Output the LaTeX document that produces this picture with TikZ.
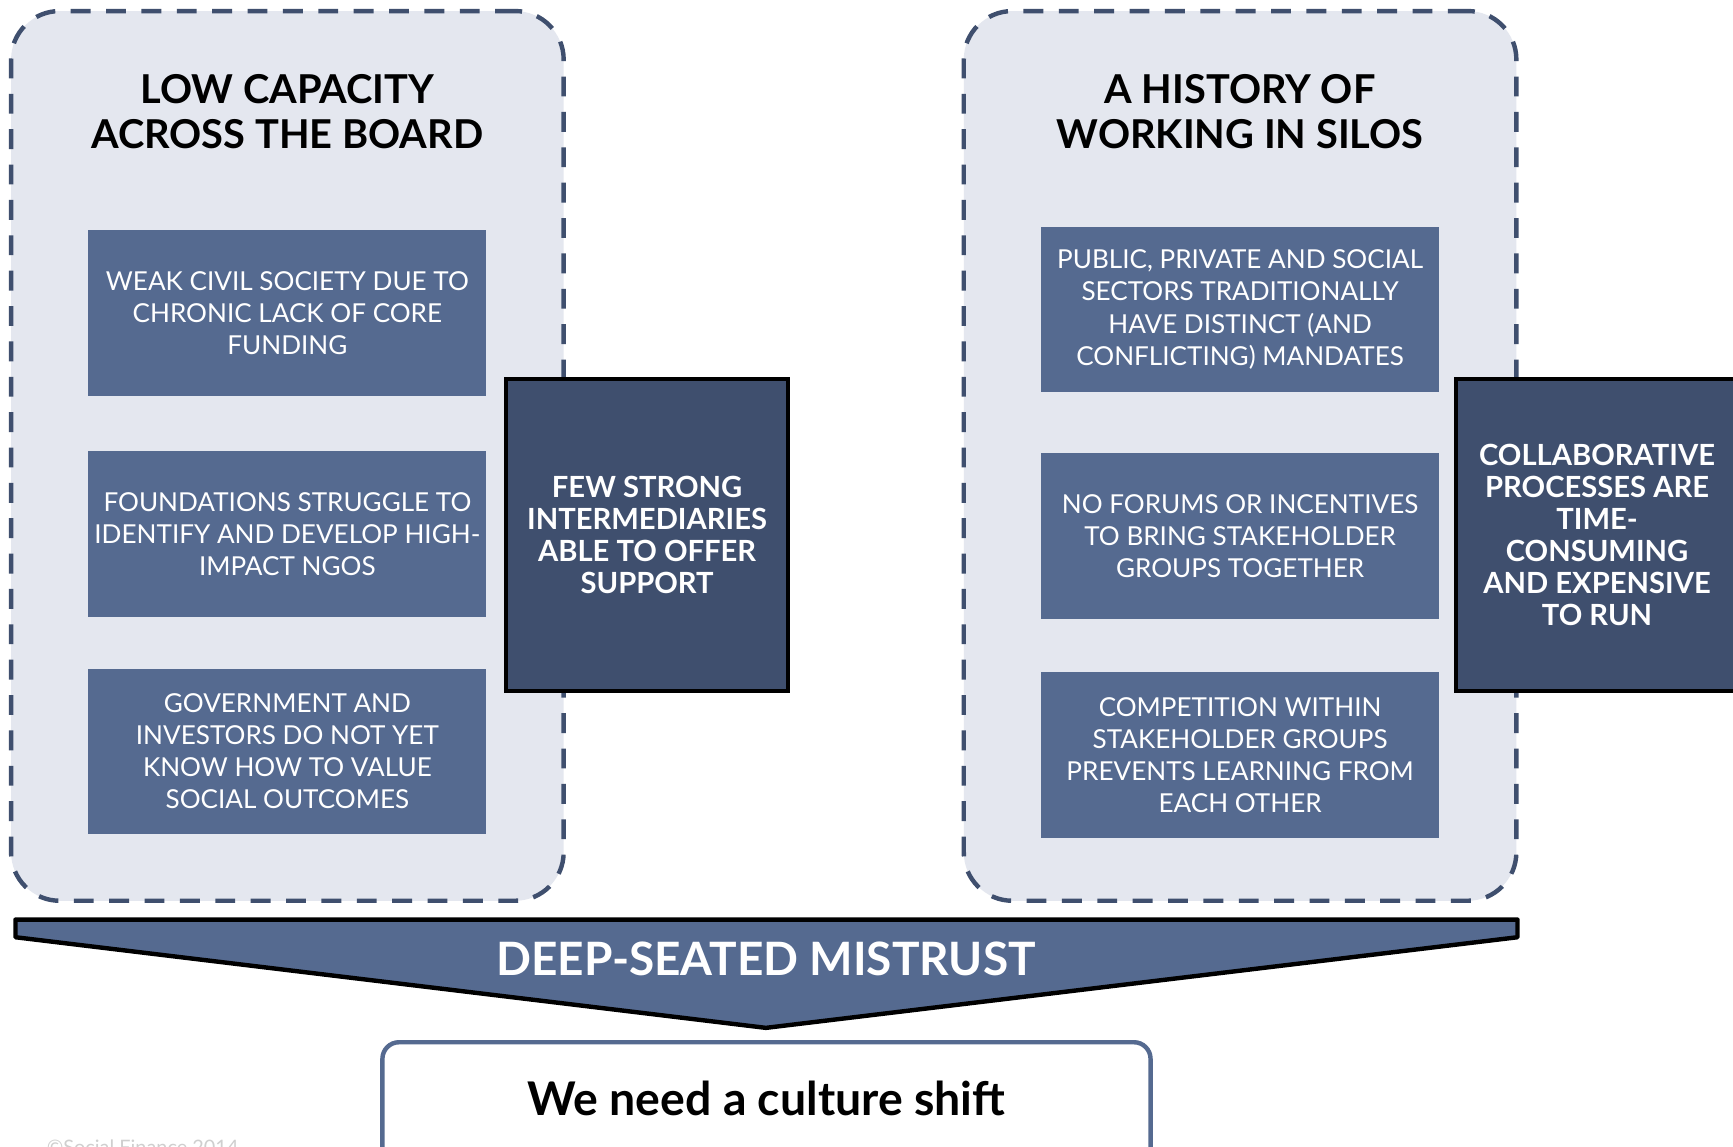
\documentclass[tikz,border=0pt]{standalone}
\usepackage{fontspec}
\setmainfont{Lato}
\definecolor{panelfill}{HTML}{E4E7EF}
\definecolor{dashc}{HTML}{3F4F6E}
\definecolor{innerc}{HTML}{556A90}
\definecolor{darkc}{HTML}{3F4F6E}
\definecolor{faint}{HTML}{CFCFCF}
\tikzset{
  panel/.style={rectangle, draw=dashc, fill=panelfill, line width=2pt,
    dash pattern=on 9pt off 7pt, rounded corners=22pt,
    minimum width=250pt, minimum height=402.5pt, inner sep=0pt},
  paneltitle/.style={align=center, font=\bfseries\fontsize{18}{20}\selectfont, text=black},
  innerbox/.style={rectangle, fill=innerc, text=white, minimum width=180pt,
    minimum height=75pt, align=center, inner sep=0pt,
    font=\fontsize{11.8}{14.5}\selectfont},
  darkbox/.style={rectangle, draw=black, line width=2pt, fill=darkc, text=white,
    minimum width=127.5pt, minimum height=141pt, align=center, inner sep=0pt,
    font=\bfseries\fontsize{13.2}{14.5}\selectfont},
  banner/.style={draw=black, line width=2pt, fill=innerc, line join=round},
  bannertext/.style={text=white, font=\bfseries\fontsize{20.8}{24}\selectfont},
  resultbox/.style={rectangle, draw=innerc, line width=2pt, fill=white,
    rounded corners=7.5pt, minimum width=347.5pt, minimum height=55pt,
    font=\bfseries\fontsize{21}{24}\selectfont, text=black}
}
\begin{document}
\begin{tikzpicture}[x=0.5pt,y=-0.5pt]
\clip (0,0) rectangle (1568,1037);
\fill[white] (0,0) rectangle (1568,1037);

% panels
\node[panel] (lp) at (260,412.5) {};
\node[panel] (rp) at (1122,412.5) {};
\node[paneltitle] (lt) at (260,101) {LOW CAPACITY\\ACROSS THE BOARD};
\node[paneltitle] (rt) at (1122,101) {A HISTORY OF\\WORKING IN SILOS};

% left inner boxes
\node[innerbox] (l1) at (260,283) {WEAK CIVIL SOCIETY DUE TO\\CHRONIC LACK OF CORE\\FUNDING};
\node[innerbox] (l2) at (260,483) {FOUNDATIONS STRUGGLE TO\\IDENTIFY AND DEVELOP HIGH-\\IMPACT NGOS};
\node[innerbox] (l3) at (260,680) {GOVERNMENT AND\\INVESTORS DO NOT YET\\KNOW HOW TO VALUE\\SOCIAL OUTCOMES};

% right inner boxes
\node[innerbox] (r1) at (1122,280) {PUBLIC, PRIVATE AND SOCIAL\\SECTORS TRADITIONALLY\\HAVE DISTINCT (AND\\CONFLICTING) MANDATES};
\node[innerbox] (r2) at (1122,485) {NO FORUMS OR INCENTIVES\\TO BRING STAKEHOLDER\\GROUPS TOGETHER};
\node[innerbox] (r3) at (1122,683) {COMPETITION WITHIN\\STAKEHOLDER GROUPS\\PREVENTS LEARNING FROM\\EACH OTHER};

% dark side boxes
\node[darkbox] (ld) at (585.5,484) {FEW STRONG\\INTERMEDIARIES\\ABLE TO OFFER\\SUPPORT};
\node[darkbox] (rd) at (1445,484) {COLLABORATIVE\\PROCESSES ARE\\TIME-\\CONSUMING\\AND EXPENSIVE\\TO RUN};

% banner
\coordinate (bTL) at (14,832);
\coordinate (bTR) at (1373,832);
\coordinate (bBR) at (1373,848);
\coordinate (bTip) at (693,930);
\coordinate (bBL) at (14,848);
\draw[banner] (bTL) -- (bTR) -- (bBR) -- (bTip) -- (bBL) -- cycle;
\node[bannertext] (bt) at (693,868) {DEEP-SEATED MISTRUST};

% result box
\node[resultbox] (res) at (693.5,998) {\raisebox{4.5pt}{We need a culture shift}};

% faint footer
\node[anchor=north west, text=faint, font=\fontsize{9}{10}\selectfont, inner sep=0pt] (foot) at (42,1031) {\textcopyright Social Finance 2014};
\end{tikzpicture}
\end{document}
